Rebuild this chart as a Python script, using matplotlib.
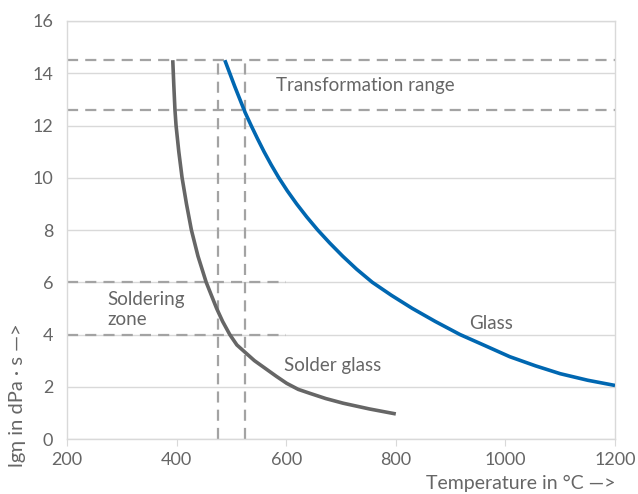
import matplotlib
matplotlib.use("Agg")
import matplotlib.pyplot as plt

# Data
solder_T = [393, 395, 397, 399, 404, 410, 418, 427, 439, 454, 473, 484, 497, 510, 526, 542, 562, 582, 601, 622, 643, 672, 704, 752, 800]
solder_lg = [14.5, 13.5, 12.6, 12.0, 11.0, 10.0, 9.0, 8.0, 7.0, 6.0, 5.0, 4.5, 4.0, 3.6, 3.3, 3.0, 2.7, 2.4, 2.13, 1.9, 1.75, 1.55, 1.37, 1.15, 0.96]

glass_T = [488, 506, 525, 536, 547.5, 559.5, 572.5, 586.5, 602, 619, 637.5, 657.5, 679.5, 703, 728.5, 757, 792, 830, 872, 917, 960, 1008, 1055, 1100, 1150, 1200]
glass_lg = [14.5, 13.5, 12.5, 12.0, 11.5, 11.0, 10.5, 10.0, 9.5, 9.0, 8.5, 8.0, 7.5, 7.0, 6.5, 6.0, 5.5, 5.0, 4.5, 4.0, 3.6, 3.15, 2.8, 2.5, 2.25, 2.05]

transform_range = [12.6, 14.5]      # lg eta bounds
soldering_zone = [4.0, 6.0]         # lg eta bounds
soldering_temps = [475, 525]        # deg C
soldering_zone_Tmax = 600

x_ticks = [200, 400, 600, 800, 1000, 1200]
y_ticks = [0, 2, 4, 6, 8, 10, 12, 14, 16]

plt.rcParams['font.family'] = ['Lato', 'DejaVu Sans']
txt = '#666666'
grid_c = '#d9d9d9'
dash_c = '#a3a3a3'

fig = plt.figure(figsize=(6.38, 4.94), dpi=100)
ax = fig.add_axes([0.105, 0.1113, 0.859, 0.8462])
ax.set_xlim(200, 1200)
ax.set_ylim(0, 16)
ax.set_xticks(x_ticks)
ax.set_yticks(y_ticks)
ax.tick_params(axis='x', length=5, color=grid_c, labelcolor=txt, labelsize=13, pad=4)
ax.tick_params(axis='y', length=0, labelcolor=txt, labelsize=13, pad=10)
for s in ax.spines.values():
    s.set_color(grid_c)
    s.set_linewidth(1)
ax.grid(axis='y', color=grid_c, linewidth=1)
ax.set_axisbelow(True)

dash = dict(color=dash_c, linewidth=1.6, linestyle=(0, (5, 3.2)), zorder=2)
for y in transform_range:
    ax.plot([200, 1200], [y, y], **dash)
for y in soldering_zone:
    ax.plot([200, soldering_zone_Tmax], [y, y], **dash)
for x in soldering_temps:
    ax.plot([x, x], [0, transform_range[1]], **dash)

ax.plot(solder_T, solder_lg, color='#666666', linewidth=2.6, zorder=3,
        solid_capstyle='butt', solid_joinstyle='round')
ax.plot(glass_T, glass_lg, color='#0067b1', linewidth=2.6, zorder=3,
        solid_capstyle='butt', solid_joinstyle='round')

fs = 13.5
ax.text(744, 13.55, 'Transformation range', color=txt, fontsize=fs, ha='center', va='center')
ax.text(273, 4.95, 'Soldering\nzone', color=txt, fontsize=fs, ha='left', va='center', linespacing=1.25)
ax.text(684, 2.83, 'Solder glass', color=txt, fontsize=fs, ha='center', va='center')
ax.text(974, 4.44, 'Glass', color=txt, fontsize=fs, ha='center', va='center')

fig.text(615/638, 1 - 483/494, 'Temperature in °C —>', color=txt, fontsize=14, ha='right', va='center')
fig.text(18/638, 1 - 467/494, 'lgη in dPa · s —>', color=txt, fontsize=14.5, ha='center', va='bottom', rotation=90)

fig.savefig('out.png', dpi=100)
